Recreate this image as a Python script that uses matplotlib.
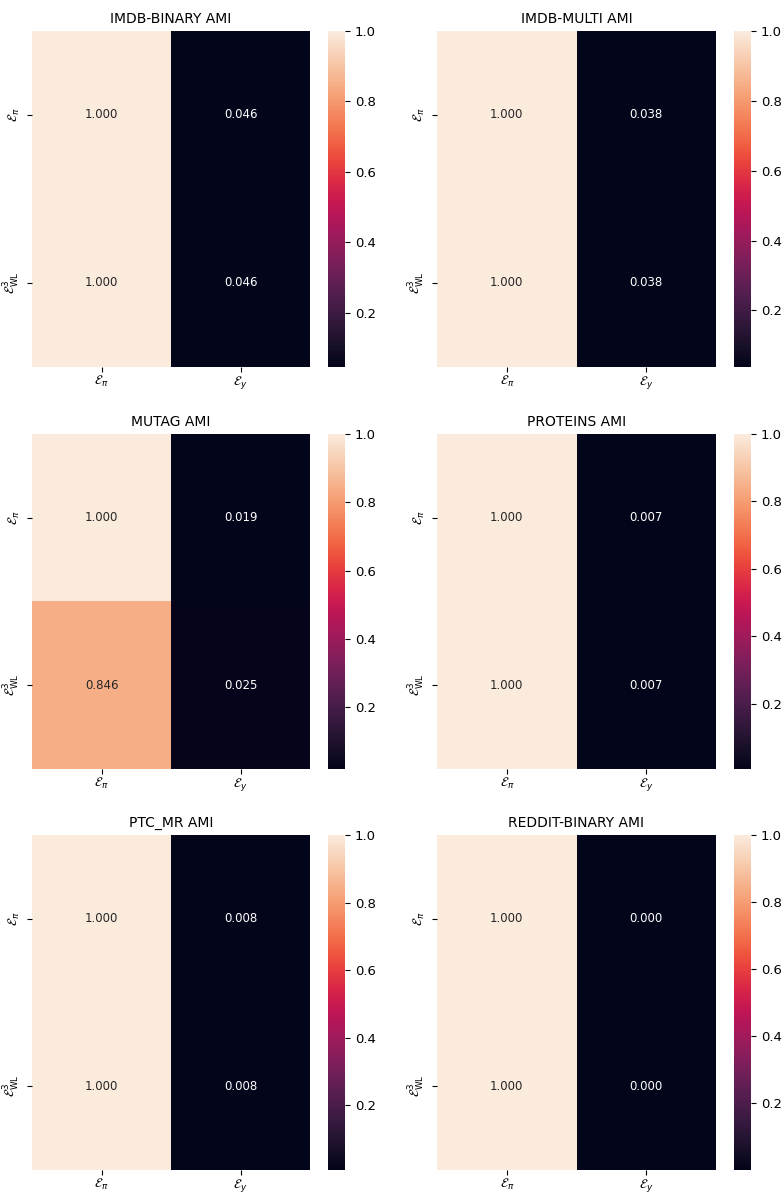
import matplotlib
matplotlib.use("Agg")
import matplotlib.pyplot as plt
import seaborn as sns
import numpy as np

titles = ["IMDB-BINARY AMI", "IMDB-MULTI AMI", "MUTAG AMI", "PROTEINS AMI", "PTC_MR AMI", "REDDIT-BINARY AMI"]
row_labels = [r"$\mathcal{E}_{\pi}$", r"$\mathcal{E}^{3}_{\mathrm{WL}}$"]
col_labels = [r"$\mathcal{E}_{\pi}$", r"$\mathcal{E}_{y}$"]
imdb_binary = [[1.000, 0.046], [1.000, 0.046]]
imdb_multi = [[1.000, 0.038], [1.000, 0.038]]
mutag = [[1.000, 0.019], [0.846, 0.025]]
proteins = [[1.000, 0.007], [1.000, 0.007]]
ptc_mr = [[1.000, 0.008], [1.000, 0.008]]
reddit_binary = [[1.000, 0.0004], [1.000, 0.0004]]
datasets = [imdb_binary, imdb_multi, mutag, proteins, ptc_mr, reddit_binary]

W, H = 783, 1192
fig = plt.figure(figsize=(W / 100, H / 100), dpi=100)

col_x = [(32, 278, 328), (437, 279, 734)]
row_y = [(31, 367), (434, 769), (835, 1170)]

for i, (title, data) in enumerate(zip(titles, datasets)):
    r, c = divmod(i, 2)
    x0, w, cx = col_x[c]
    yt, yb = row_y[r]
    ax = fig.add_axes([x0 / W, 1 - yb / H, w / W, (yb - yt) / H])
    cax = fig.add_axes([cx / W, 1 - yb / H, 17 / W, (yb - yt) / H])
    arr = np.array(data)
    sns.heatmap(arr, ax=ax, cbar_ax=cax, annot=True, fmt=".3f",
                xticklabels=col_labels, yticklabels=row_labels,
                annot_kws={"fontsize": 8.5})
    ax.set_title(title, fontsize=10)
    ax.tick_params(axis="both", labelsize=9)
    ax.tick_params(axis="x", pad=1.5)
    cax.tick_params(labelsize=9.5)

fig.savefig("out.png", dpi=100)
